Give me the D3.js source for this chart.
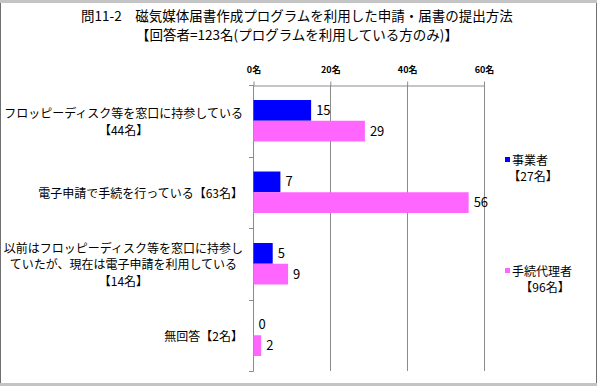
<!DOCTYPE html>
<html>
<head>
<meta charset="utf-8">
<script src="https://cdn.jsdelivr.net/npm/d3@7"></script>
<style>
  body { margin: 0; background: #fff; }
  text { font-family: "Noto Sans CJK JP", sans-serif; fill: #000; }
</style>
</head>
<body>
<div id="chart"></div>
<script>
// data
const categories = ['floppy', 'online', 'switched', 'noanswer'];
const categoryLabels = [
  ['フロッピーディスク等を窓口に持参している', '【44名】'],
  ['電子申請で手続を行っている【63名】'],
  ['以前はフロッピーディスク等を窓口に持参し', 'ていたが、現在は電子申請を利用している', '【14名】'],
  ['無回答【2名】']
];
const seriesNames = ['事業者', '手続代理者'];
const seriesCounts = ['【27名】', '【96名】'];
const jigyosha = [15, 7, 5, 0];
const dairi = [29, 56, 9, 2];
const xTicks = [0, 20, 40, 60];
const titleLines = ['問11-2　磁気媒体届書作成プログラムを利用した申請・届書の提出方法',
                    '【回答者=123名(プログラムを利用している方のみ)】'];

const colors = ['#0000ff', '#ff66ff'];
const W = 597, H = 386;

const svg = d3.select('#chart').append('svg')
  .attr('width', W)
  .attr('height', H);

// frame
svg.append('rect').attr('width', W).attr('height', H).attr('fill', '#c4c4c4');
svg.append('rect').attr('x', 0).attr('y', 3).attr('width', 597).attr('height', 380).attr('fill', '#fff');
svg.append('line').attr('x1', 0.5).attr('x2', 0.5).attr('y1', 3).attr('y2', 383).attr('stroke', '#707070');
svg.append('line').attr('x1', 596.5).attr('x2', 596.5).attr('y1', 3).attr('y2', 383).attr('stroke', '#707070');

// title
svg.selectAll('.title').data(titleLines).enter().append('text')
  .attr('class', 'title')
  .attr('x', 297)
  .attr('y', (d, i) => 20.5 + i * 19)
  .attr('text-anchor', 'middle')
  .style('font-size', '13.5px')
  .text(d => d);

const x = d3.scaleLinear().domain([0, 60]).range([253.5, 484]);
const y = d3.scaleBand().domain(categories).range([85, 371]).paddingInner(0.42).paddingOuter(0.21);
const ySub = d3.scaleBand().domain([0, 1]).range([0, y.bandwidth()]);

// gridlines
svg.append('g').selectAll('line').data(xTicks.slice(1)).enter().append('line')
  .attr('x1', d => Math.round(x(d)) + 0.5)
  .attr('x2', d => Math.round(x(d)) + 0.5)
  .attr('y1', 85).attr('y2', 371)
  .attr('stroke', '#8c8c8c');

// top axis
const axisTop = svg.append('g')
  .attr('transform', 'translate(0,85.5)')
  .call(d3.axisTop(x).tickValues(xTicks).tickFormat(d => d + '名').tickSize(4).tickSizeOuter(0).tickPadding(9));
axisTop.select('.domain').attr('stroke', '#8c8c8c');
axisTop.selectAll('.tick line').attr('stroke', '#8c8c8c');
axisTop.selectAll('.tick text')
  .style('font-family', '"Noto Sans CJK JP", sans-serif')
  .style('font-size', '9px')
  .style('font-weight', 'bold')
  .attr('fill', '#000');

// left axis with ticks on category boundaries
const step = y.step();
const bounds = [85].concat(categories.map(c => y(c) + y.bandwidth() + (step - y.bandwidth()) / 2));
svg.append('line')
  .attr('x1', 253.5).attr('x2', 253.5).attr('y1', 85).attr('y2', 371.5)
  .attr('stroke', '#8c8c8c');
svg.append('g').selectAll('line').data(bounds).enter().append('line')
  .attr('x1', 249).attr('x2', 253.5)
  .attr('y1', d => Math.round(d) + 0.5).attr('y2', d => Math.round(d) + 0.5)
  .attr('stroke', '#8c8c8c');

// bars
const series = [jigyosha, dairi];
series.forEach((vals, si) => {
  const g = svg.append('g');
  g.selectAll('rect').data(vals).enter().append('rect')
    .attr('x', x(0))
    .attr('y', (d, i) => y(categories[i]) + ySub(si))
    .attr('width', d => x(d) - x(0))
    .attr('height', ySub.bandwidth())
    .attr('fill', colors[si]);
  g.selectAll('text').data(vals).enter().append('text')
    .attr('x', d => x(d) + 5)
    .attr('y', (d, i) => y(categories[i]) + ySub(si) + ySub.bandwidth() / 2 + 4.5)
    .style('font-size', '13px')
    .text(d => d);
});

// category labels: each block right aligned, lines centred inside the block
const labelRight = 243;
const lineH = 16.5;
categoryLabels.forEach((lines, i) => {
  const cy = y(categories[i]) + y.bandwidth() / 2 + 1;
  const g = svg.append('g');
  const texts = g.selectAll('text').data(lines).enter().append('text')
    .attr('y', (d, j) => cy + (j - (lines.length - 1) / 2) * lineH + 4.5)
    .style('font-size', '12px')
    .attr('text-anchor', 'middle')
    .text(d => d);
  let maxW = 0;
  texts.each(function () { maxW = Math.max(maxW, this.getComputedTextLength()); });
  texts.attr('x', labelRight - maxW / 2);
});

// legend
const legendY = [160, 271];
seriesNames.forEach((name, i) => {
  const g = svg.append('g').attr('transform', `translate(505,${legendY[i]})`);
  g.append('rect').attr('x', 0).attr('y', -3).attr('width', 5).attr('height', 5).attr('fill', colors[i]);
  const t1 = g.append('text').attr('x', 7).attr('y', 4.5).style('font-size', '12px').text(name);
  const w1 = t1.node().getComputedTextLength();
  g.append('text').attr('x', 7 + w1 / 2 + 3).attr('y', 20.5).attr('text-anchor', 'middle')
    .style('font-size', '12px').text(seriesCounts[i]);
});
</script>
</body>
</html>
